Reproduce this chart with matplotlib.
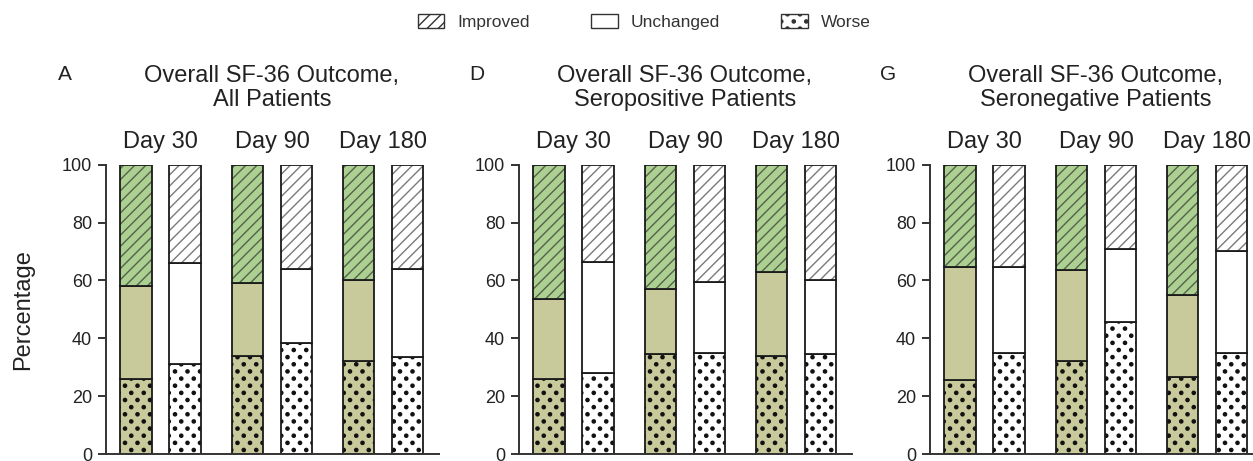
import numpy as np
import matplotlib
matplotlib.use('Agg')
import matplotlib.pyplot as plt
from matplotlib.patches import Patch
from matplotlib.path import Path
from matplotlib import transforms
from matplotlib import hatch as mhatch

plt.rcParams['font.family'] = ['Liberation Sans', 'DejaVu Sans']
plt.rcParams['hatch.linewidth'] = 1.0

# ---- data (percent of patients) ----
days = ['Day 30', 'Day 90', 'Day 180']
letters = ['A', 'D', 'G']
titles = ['Overall SF-36 Outcome,\nAll Patients',
          'Overall SF-36 Outcome,\nSeropositive Patients',
          'Overall SF-36 Outcome,\nSeronegative Patients']

# green (treated) bars : worse / unchanged / improved
all_worse_g = [26, 34, 32]
all_unch_g = [32, 25, 28]
all_impr_g = [42, 41, 40]
# white bars
all_worse_w = [31, 38.5, 33.5]
all_unch_w = [35, 25.5, 30.5]
all_impr_w = [34, 36, 36]

pos_worse_g = [26, 34.5, 34]
pos_unch_g = [27.5, 22.5, 29]
pos_impr_g = [46.5, 43, 37]
pos_worse_w = [28, 35, 34.5]
pos_unch_w = [38.5, 24.5, 25.5]
pos_impr_w = [33.5, 40.5, 40]

neg_worse_g = [25.5, 32, 26.5]
neg_unch_g = [39, 31.5, 28.5]
neg_impr_g = [35.5, 36.5, 45]
neg_worse_w = [35, 45.5, 35]
neg_unch_w = [29.5, 25.5, 35]
neg_impr_w = [35.5, 29, 30]

panels = [
    (all_worse_g, all_unch_g, all_impr_g, all_worse_w, all_unch_w, all_impr_w),
    (pos_worse_g, pos_unch_g, pos_impr_g, pos_worse_w, pos_unch_w, pos_impr_w),
    (neg_worse_g, neg_unch_g, neg_impr_g, neg_worse_w, neg_unch_w, neg_impr_w),
]


# sparser staggered dot texture for '.' (closer to the printed figure)
class SparseDots(mhatch.HatchPatternBase):
    rows, cols, radius = 14, 8, 0.016

    def __init__(self, hatch, density):
        self.circle = Path.unit_circle()
        self.pts = []
        for r in range(self.rows + 1):
            if r % 2 == 0:
                xs = np.arange(self.cols + 1) / self.cols
            else:
                xs = (np.arange(self.cols) + 0.5) / self.cols
            self.pts += [(x, r / self.rows) for x in xs]
        on = '.' in hatch
        self.num_vertices = len(self.pts) * len(self.circle.vertices) if on else 0

    def set_vertices_and_codes(self, vertices, codes):
        n = len(self.circle.vertices)
        for i, (x, y) in enumerate(self.pts):
            vertices[i * n:(i + 1) * n] = self.circle.vertices * self.radius + (x, y)
            codes[i * n:(i + 1) * n] = self.circle.codes


mhatch._hatch_types = [t for t in mhatch._hatch_types
                       if t is not mhatch.SmallFilledCircles] + [SparseDots]

KHAKI = '#c9ca9b'
GREEN = '#acd091'
TXT = '#222222'
EDGE = '#1a1a1a'

fig = plt.figure(figsize=(12.53, 4.61), dpi=100)

lefts = [106, 519, 930]
ax_w = 333 / 1253
ax_b = 7 / 461
ax_h = 289.3 / 461
letter_x = [65, 477, 888]

w = 0.28
off = 0.22
xg = np.arange(3)


def seg(ax, x, h, b, face, hatch, hcol):
    ax.bar(x, h, w, bottom=b, color=face, hatch=hatch, edgecolor=hcol, linewidth=0)
    ax.bar(x, h, w, bottom=b, fill=False, edgecolor=EDGE, linewidth=1.3)


for k, (wg, ug, ig, ww, uw, iw) in enumerate(panels):
    ax = fig.add_axes([lefts[k] / 1253, ax_b, ax_w, ax_h])
    wg, ug, ig = np.array(wg), np.array(ug), np.array(ig)
    ww, uw, iw = np.array(ww), np.array(uw), np.array(iw)

    # green bars
    seg(ax, xg - off, wg, 0, KHAKI, '.', '#111111')
    seg(ax, xg - off, ug, wg, KHAKI, None, EDGE)
    seg(ax, xg - off, ig, wg + ug, GREEN, '///', '#55614a')
    # white bars
    seg(ax, xg + off, ww, 0, 'white', '.', '#111111')
    seg(ax, xg + off, uw, ww, 'white', None, EDGE)
    seg(ax, xg + off, iw, ww + uw, 'white', '///', '#7a7a7a')

    ax.set_xlim(-0.49, 2.5)
    ax.set_ylim(0, 100)
    ax.set_yticks([0, 20, 40, 60, 80, 100])
    ax.set_xticks([])
    for s in ['top', 'right']:
        ax.spines[s].set_visible(False)
    for s in ['left', 'bottom']:
        ax.spines[s].set_linewidth(1.4)
        ax.spines[s].set_color('#333333')
    ax.tick_params(axis='y', length=6, width=1.4, color='#333333',
                   labelsize=13, labelcolor=TXT, pad=4)

    trans = transforms.blended_transform_factory(ax.transData, ax.transAxes)
    for g in range(3):
        ax.text(g, 1.08, days[g], transform=trans, ha='center', va='center',
                fontsize=17, color=TXT)
    ax.text(1, 1.265, titles[k], transform=trans, ha='center', va='center',
            fontsize=17, color=TXT, linespacing=1.1)
    fig.text(letter_x[k] / 1253, 1 - 75 / 461, letters[k], ha='center',
             va='center', fontsize=15, color=TXT)

    if k == 0:
        ax.set_ylabel('Percentage', fontsize=17, color=TXT, labelpad=20)

handles = [Patch(facecolor='white', edgecolor='#333333', hatch='///', label='Improved'),
           Patch(facecolor='white', edgecolor='#333333', label='Unchanged'),
           Patch(facecolor='white', edgecolor='#333333', hatch='.', label='Worse')]
leg = fig.legend(handles=handles, loc='center', bbox_to_anchor=(0.514, 1 - 22 / 461),
                 ncol=3, frameon=False, fontsize=12.5, handlelength=1.55,
                 handleheight=0.85, handletextpad=0.75, columnspacing=3.5)
for t in leg.get_texts():
    t.set_color('#333333')

fig.savefig('out.png', dpi=100)
